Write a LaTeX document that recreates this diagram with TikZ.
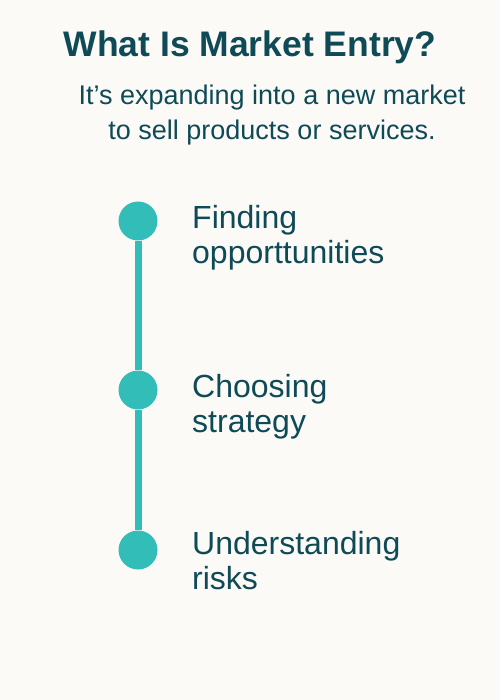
\documentclass[tikz,border=0pt]{standalone}
\usepackage{fontspec}
\setmainfont{Liberation Sans}
\definecolor{tinta}{HTML}{0F4A57}
\definecolor{turquesa}{HTML}{33BDB9}
\definecolor{fondo}{HTML}{FBFAF7}

\begin{document}
\begin{tikzpicture}[x=1pt, y=-1pt,
    titulo/.style={text=tinta, font=\bfseries\fontsize{35.5}{40}\selectfont, inner sep=0pt},
    subtitulo/.style={text=tinta, font=\fontsize{27}{35}\selectfont, align=center, inner sep=0pt},
    paso/.style={text=tinta, font=\fontsize{32}{35}\selectfont, align=left, inner sep=0pt},
    punto/.style={circle, fill=turquesa, minimum size=39pt, inner sep=0pt},
    linea/.style={turquesa, line width=7pt}]
    % Fondo
    \fill[fondo] (0,0) rectangle (500,700);
    \useasboundingbox (0,0) rectangle (500,700);

    % Titulo y descripcion (base = ultima linea)
    \node[titulo, anchor=base] (titulo) at (250,57) {What Is Market Entry?};
    \node[subtitulo, anchor=base] (subtitulo) at (272,140) {It’s expanding into a new market\\to sell products or services.};

    % Puntos de la linea de tiempo
    \node[punto] (punto1) at (138,221) {};
    \node[punto] (punto2) at (138,390) {};
    \node[punto] (punto3) at (138,550) {};
    \draw[linea] (punto1.south) -- (punto2.north);
    \draw[linea] (punto2.south) -- (punto3.north);

    % Pasos
    \node[paso, anchor=base west] (paso1) at (192,263) {Finding\\opporttunities};
    \node[paso, anchor=base west] (paso2) at (192,432) {Choosing\\strategy};
    \node[paso, anchor=base west] (paso3) at (192,589) {Understanding\\risks};
\end{tikzpicture}
\end{document}
